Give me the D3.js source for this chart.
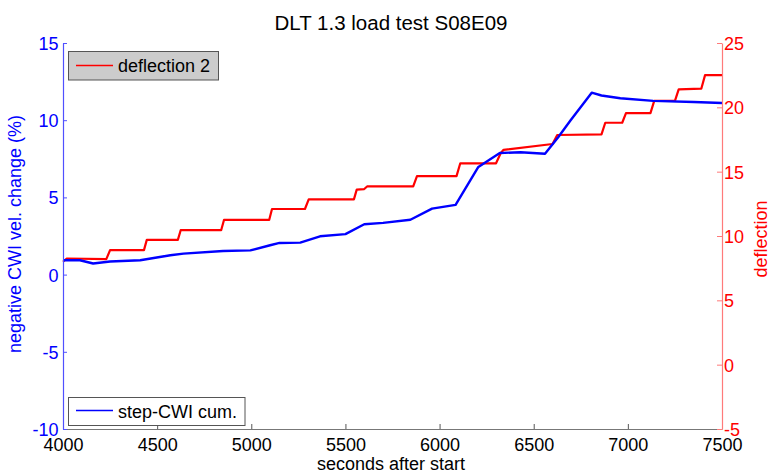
<!DOCTYPE html>
<html>
<head>
<meta charset="utf-8">
<script src="https://cdn.jsdelivr.net/npm/d3@7"></script>
<style>
  html, body { margin: 0; padding: 0; background: #fff; }
  svg { display: block; font-family: "Liberation Sans", Arial, sans-serif; }
</style>
</head>
<body>
<svg id="chart" width="768" height="473"></svg>
<script>
// ---- data ----
const titleText = "DLT 1.3 load test S08E09";
const xLabel = "seconds after start";
const yLeftLabel = "negative CWI vel. change (%)";
const yRightLabel = "deflection";
const xTicks = [4000, 4500, 5000, 5500, 6000, 6500, 7000, 7500];
const yLeftTicks = [-10, -5, 0, 5, 10, 15];
const yRightTicks = [-5, 0, 5, 10, 15, 20, 25];
const legendRed = "deflection 2";
const legendBlue = "step-CWI cum.";

// blue series: step-CWI cumulative (left axis)
const cwiTime = [4000, 4090, 4160, 4250, 4410, 4570, 4640, 4850, 4995, 5100, 5150, 5260, 5365, 5500, 5600, 5700, 5845, 5960, 6085, 6206, 6320, 6430, 6560, 6630, 6695, 6808, 6860, 6960, 7135, 7350, 7500];
const cwiValue = [0.93, 0.93, 0.72, 0.85, 0.93, 1.25, 1.36, 1.53, 1.57, 1.90, 2.05, 2.07, 2.48, 2.62, 3.26, 3.35, 3.55, 4.27, 4.52, 6.97, 7.88, 7.92, 7.83, 8.90, 9.98, 11.78, 11.60, 11.42, 11.25, 11.18, 11.11];

// red series: deflection 2 (right axis)
const defTime = [4000, 4020, 4230, 4250, 4430, 4445, 4610, 4625, 4840, 4855, 5095, 5110, 5285, 5305, 5545, 5560, 5600, 5615, 5860, 5880, 6090, 6110, 6300, 6325, 6340, 6600, 6625, 6860, 6880, 6970, 6990, 7120, 7140, 7250, 7270, 7390, 7410, 7500];
const defValue = [8.0, 8.25, 8.2, 8.9, 8.9, 9.7, 9.7, 10.45, 10.45, 11.25, 11.25, 12.1, 12.1, 12.85, 12.85, 13.6, 13.65, 13.85, 13.85, 14.65, 14.65, 15.65, 15.65, 16.45, 16.7, 17.15, 17.85, 17.9, 18.8, 18.8, 19.55, 19.55, 20.5, 20.5, 21.4, 21.45, 22.5, 22.5];

// ---- layout ----
const svg = d3.select("#chart");
const L = 63, R = 722, T = 43, B = 429;
const FS = 18;
const fmt = d => String(d);

const x = d3.scaleLinear().domain([4000, 7500]).range([L, R]);
const yL = d3.scaleLinear().domain([-10, 15]).range([B, T]);
const yR = d3.scaleLinear().domain([-5, 25]).range([B, T]);

// lines
const cwi = cwiTime.map((t, i) => [t, cwiValue[i]]);
const def = defTime.map((t, i) => [t, defValue[i]]);

svg.append("path")
  .datum(def)
  .attr("fill", "none")
  .attr("stroke", "#ff0000")
  .attr("stroke-width", 2.2)
  .attr("stroke-linejoin", "round")
  .attr("d", d3.line().x(d => x(d[0])).y(d => yR(d[1])));

svg.append("path")
  .datum(cwi)
  .attr("fill", "none")
  .attr("stroke", "#0000ff")
  .attr("stroke-width", 2.4)
  .attr("stroke-linejoin", "round")
  .attr("d", d3.line().x(d => x(d[0])).y(d => yL(d[1])));

// bottom axis
const gx = svg.append("g").attr("transform", `translate(0,${B})`)
  .call(d3.axisBottom(x).tickValues(xTicks).tickFormat(fmt).tickSizeInner(-5).tickSizeOuter(0).tickPadding(9));
gx.select(".domain").attr("stroke", "#777").attr("stroke-width", 1.2);
gx.selectAll(".tick line").attr("stroke", "#555");
gx.selectAll(".tick text").attr("fill", "#000").attr("font-size", FS).attr("font-family", "Liberation Sans, Arial, sans-serif").attr("dy", "0.71em").attr("y", 9);

// left axis
const gl = svg.append("g").attr("transform", `translate(${L},0)`)
  .call(d3.axisLeft(yL).tickValues(yLeftTicks).tickFormat(fmt).tickSizeInner(-4).tickSizeOuter(0).tickPadding(9));
gl.select(".domain").attr("stroke", "#5050ff").attr("stroke-width", 1.2);
gl.selectAll(".tick line").attr("stroke", "#5050ff");
gl.selectAll(".tick text").attr("fill", "#0000ff").attr("font-size", FS).attr("font-family", "Liberation Sans, Arial, sans-serif").attr("x", -4.5).attr("dy", "0.36em");

// right axis
const gr = svg.append("g").attr("transform", `translate(${R},0)`)
  .call(d3.axisRight(yR).tickValues(yRightTicks).tickFormat(fmt).tickSizeInner(-5).tickSizeOuter(0).tickPadding(2));
gr.select(".domain").attr("stroke", "#ff7a7a").attr("stroke-width", 1.2);
gr.selectAll(".tick line").attr("stroke", "#ff7a7a");
gr.selectAll(".tick text").attr("fill", "#ff0000").attr("font-size", FS).attr("font-family", "Liberation Sans, Arial, sans-serif").attr("x", 2).attr("dy", "0.36em");

// title
svg.append("text").attr("x", 391).attr("y", 29.5).attr("text-anchor", "middle")
  .attr("font-size", 20.5).attr("fill", "#000").text(titleText);

// x label
svg.append("text").attr("x", 391).attr("y", 470).attr("text-anchor", "middle")
  .attr("font-size", FS).attr("fill", "#000").text(xLabel);

// left y label
svg.append("text").attr("transform", `translate(21,234) rotate(-90)`).attr("text-anchor", "middle")
  .attr("font-size", FS).attr("fill", "#0000ff").text(yLeftLabel);

// right y label
svg.append("text").attr("transform", `translate(767,239) rotate(-90)`).attr("text-anchor", "middle")
  .attr("font-size", FS).attr("fill", "#ff0000").text(yRightLabel);

// legend: deflection 2
const lg1 = svg.append("g");
lg1.append("rect").attr("x", 68.5).attr("y", 51.5).attr("width", 150).attr("height", 28.5)
  .attr("fill", "#cccccc").attr("stroke", "#555").attr("stroke-width", 1);
lg1.append("line").attr("x1", 76).attr("x2", 113).attr("y1", 65.5).attr("y2", 65.5)
  .attr("stroke", "#ff0000").attr("stroke-width", 1.5);
lg1.append("text").attr("x", 118).attr("y", 72).attr("font-size", FS).attr("fill", "#000").text(legendRed);

// legend: step-CWI cum.
const lg2 = svg.append("g");
lg2.append("rect").attr("x", 68.5).attr("y", 397.5).attr("width", 176.5).attr("height", 28)
  .attr("fill", "#ffffff").attr("stroke", "#555").attr("stroke-width", 1);
lg2.append("line").attr("x1", 76).attr("x2", 113).attr("y1", 410.5).attr("y2", 410.5)
  .attr("stroke", "#0000ff").attr("stroke-width", 1.5);
lg2.append("text").attr("x", 118).attr("y", 417.5).attr("font-size", FS).attr("fill", "#000").text(legendBlue);
</script>
</body>
</html>
